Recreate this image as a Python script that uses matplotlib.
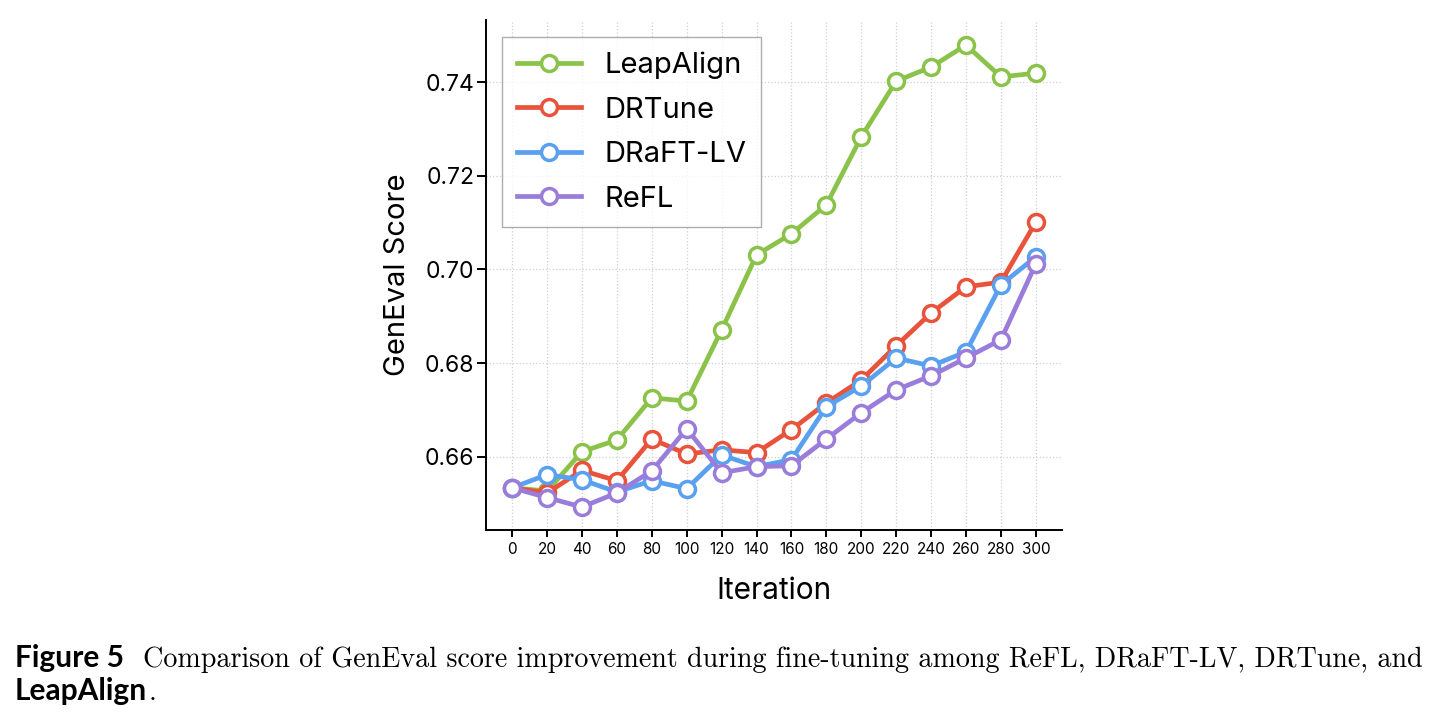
import numpy as np
import matplotlib.pyplot as plt

iters = [0, 20, 40, 60, 80, 100, 120, 140, 160, 180, 200, 220, 240, 260, 280, 300]

leapalign = [0.6534, 0.6527, 0.6611, 0.6636, 0.6726, 0.6719, 0.6871, 0.7031,
             0.7076, 0.7138, 0.7283, 0.7402, 0.7432, 0.7479, 0.7411, 0.7419]
drtune = [0.6534, 0.6523, 0.6571, 0.6549, 0.6638, 0.6606, 0.6615, 0.6609,
          0.6658, 0.6715, 0.6764, 0.6837, 0.6907, 0.6963, 0.6973, 0.7101]
draft_lv = [0.6534, 0.6562, 0.6551, 0.6525, 0.6549, 0.6532, 0.6604, 0.6579,
            0.6594, 0.6707, 0.6751, 0.6811, 0.6794, 0.6824, 0.6967, 0.7027]
refl = [0.6534, 0.6513, 0.6493, 0.6523, 0.6570, 0.6660, 0.6566, 0.6579,
        0.6581, 0.6638, 0.6694, 0.6743, 0.6773, 0.6811, 0.6850, 0.7012]

names = ['LeapAlign', 'DRTune', 'DRaFT-LV', 'ReFL']
colors = ['#8bc34a', '#e9533c', '#5aa0f0', '#9a7ddb']

plt.rcParams['font.family'] = ['Inter', 'DejaVu Sans']

fig = plt.figure(figsize=(14.42, 7.21), dpi=100)
ax = fig.add_axes([0.337, 0.265, 0.3995, 0.707])

series = [leapalign, drtune, draft_lv, refl]
for s, name, c in zip(series, names, colors):
    ax.plot(iters, s, '-o', color=c, lw=3.4, ms=11.5, mfc='white',
            mec=c, mew=2.5, label=name)

ax.set_xlim(-15, 315)
ax.set_ylim(0.6444, 0.7532)
ax.set_xticks(iters)
ax.set_yticks([0.66, 0.68, 0.70, 0.72, 0.74])
ax.tick_params(axis='x', labelsize=11, length=5, width=1.4, pad=4)
ax.tick_params(axis='y', labelsize=16.5, length=6.5, width=1.4, pad=2)
ax.grid(True, ls=':', color='#d0d0d0', lw=0.9)
for sp in ['top', 'right']:
    ax.spines[sp].set_visible(False)
for sp in ['left', 'bottom']:
    ax.spines[sp].set_linewidth(1.4)

ax.set_xlabel('Iteration', fontsize=21.5, labelpad=14)
ax.set_ylabel('GenEval Score', fontsize=21, labelpad=10)

leg = ax.legend(loc='upper left', fontsize=21, fancybox=False, handlelength=2.2,
                borderpad=0.5, labelspacing=0.6, handletextpad=0.8,
                borderaxespad=0, bbox_to_anchor=(0.028, 0.967))
leg.get_frame().set_edgecolor('#999999')
leg.get_frame().set_linewidth(1.0)

# caption
fig.canvas.draw()
r = fig.canvas.get_renderer()
t1 = fig.text(0.0104, 0.075, 'Figure 5', fontsize=21.5, fontweight='bold',
              family='Lato', va='baseline')
x1 = t1.get_window_extent(r).x1 / 1442
fig.text(x1 + 0.013, 0.075, 'Comparison of GenEval score improvement during fine-tuning among '
         'ReFL, DRaFT-LV, DRTune, and', fontsize=20.2, family='cmr10', va='baseline')
t2 = fig.text(0.0104, 0.029, 'LeapAlign', fontsize=21.5, fontweight='bold',
              family='Lato', va='baseline')
x2 = t2.get_window_extent(r).x1 / 1442
fig.text(x2 + 0.001, 0.029, '.', fontsize=20.2, family='cmr10', va='baseline')

fig.savefig('out.png', dpi=100)
